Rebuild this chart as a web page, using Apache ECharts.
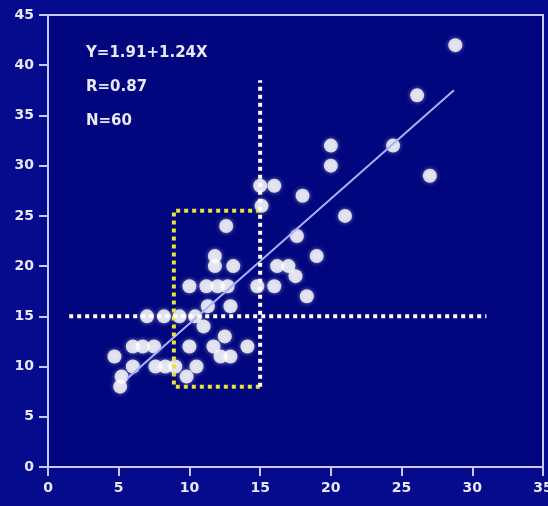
<!DOCTYPE html>
<html>
<head>
<meta charset="utf-8">
<script src="https://cdn.jsdelivr.net/npm/echarts@6/dist/echarts.min.js"></script>
<style>
html,body{margin:0;padding:0;background:#050b8c;}
#chart{width:548px;height:506px;}
</style>
</head>
<body>
<div id="chart"></div>
<script>
// Scatter data
const pointsX = [28.8,26.1,24.4,27,20,20,15,16,18,15.1,21,12.6,17.6,19,11.8,11.8,13.1,16.2,17,17.5,10,11.2,12,12.7,14.8,16,18.3,11.3,12.9,7,8.2,9.3,10.4,11,12.5,6,6.7,7.5,10,11.7,14.1,4.7,12.2,12.9,6,7.6,8.3,9,10.5,5.2,9.8,5.1];
const pointsY = [42,37,32,29,32,30,28,28,27,26,25,24,23,21,21,20,20,20,20,19,18,18,18,18,18,18,17,16,16,15,15,15,15,14,13,12,12,12,12,12,12,11,11,11,10,10,10,10,10,9,9,8];
// Regression line end points
const regX = [5.6, 28.7];
const regY = [8.8, 37.5];
// Dotted guide lines
const whiteVertX = [15, 15];
const whiteVertY = [8, 38.5];
const whiteHorX = [1.5, 31];
const whiteHorY = [15, 15];
const yellowBoxX = [15, 8.9, 8.9, 15];
const yellowBoxY = [25.5, 25.5, 8, 8];
// Annotation text
const annotations = ['Y=1.91+1.24X', 'R=0.87', 'N=60'];

const zip = (a, b) => a.map((v, i) => [v, b[i]]);

const axisColor = '#c4c8ff';
const labelColor = '#e8e8ff';
const font = 'DejaVu Sans';

const chart = echarts.init(document.getElementById('chart'));
chart.setOption({
  backgroundColor: '#050b8c',
  animation: false,
  grid: {
    left: 48, right: 5, top: 15, bottom: 39,
    outerBoundsMode: 'none', containLabel: false,
    show: true, backgroundColor: '#01067e',
    borderColor: axisColor, borderWidth: 2
  },
  xAxis: {
    type: 'value', min: 0, max: 35, interval: 5,
    splitLine: {show: false},
    axisLine: {show: true, onZero: false, lineStyle: {color: axisColor, width: 2}},
    axisTick: {show: true, length: 9, lineStyle: {color: axisColor, width: 2}},
    axisLabel: {color: labelColor, fontFamily: font, fontWeight: 'bold', fontSize: 14, margin: 14}
  },
  yAxis: {
    type: 'value', min: 0, max: 45, interval: 5,
    splitLine: {show: false},
    axisLine: {show: true, onZero: false, lineStyle: {color: axisColor, width: 2}},
    axisTick: {show: true, length: 9, lineStyle: {color: axisColor, width: 2}},
    axisLabel: {color: labelColor, fontFamily: font, fontWeight: 'bold', fontSize: 14, margin: 14}
  },
  graphic: annotations.map((t, i) => ({
    type: 'text', left: 86, top: 46 + i * 34,
    style: {text: t, fill: labelColor, font: 'bold 15px "DejaVu Sans"'}
  })),
  series: [
    {
      type: 'scatter', data: zip(pointsX, pointsY), symbolSize: 14, z: 2,
      itemStyle: {color: '#ffffff', shadowBlur: 4, shadowColor: 'rgba(255,255,255,0.6)'}
    },
    {
      type: 'line', data: zip(regX, regY), symbol: 'none', z: 3,
      lineStyle: {color: '#a8b0ff', width: 2}
    },
    {
      type: 'line', data: zip(yellowBoxX, yellowBoxY), symbol: 'none', z: 4,
      lineStyle: {color: '#e8e040', width: 4, type: [4, 4]}
    },
    {
      type: 'line', data: zip(whiteVertX, whiteVertY), symbol: 'none', z: 5,
      lineStyle: {color: '#ffffff', width: 4, type: [4, 4]}
    },
    {
      type: 'line', data: zip(whiteHorX, whiteHorY), symbol: 'none', z: 5,
      lineStyle: {color: '#ffffff', width: 4, type: [4, 4]}
    }
  ]
});
</script>
</body>
</html>
